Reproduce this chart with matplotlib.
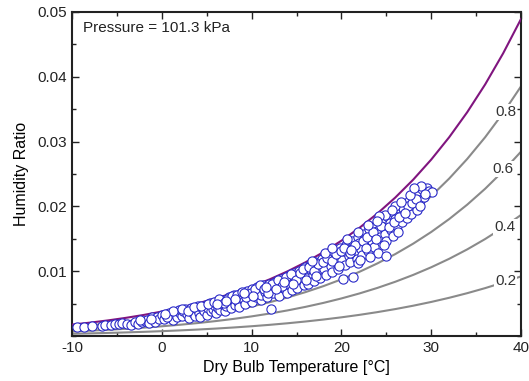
import numpy as np
import matplotlib
matplotlib.use("Agg")
import matplotlib.pyplot as plt
from matplotlib.ticker import MultipleLocator

plt.rcParams['font.family'] = ['Liberation Sans', 'DejaVu Sans']
plt.rcParams['axes.unicode_minus'] = False

# Saturation vapour pressure table (kPa) vs dry bulb temperature (degC)
table_T = [-10, -8, -6, -4, -2, 0, 2, 4, 6, 8, 10, 12, 14, 16, 18, 20,
           22, 24, 26, 28, 30, 32, 34, 36, 38, 40]
table_pws = [0.2865, 0.3352, 0.3908, 0.4547, 0.5275, 0.6112, 0.7060, 0.8135,
             0.9353, 1.0729, 1.2282, 1.4028, 1.5990, 1.8188, 2.0647, 2.3392,
             2.6452, 2.9856, 3.3637, 3.7828, 4.2467, 4.7592, 5.3247, 5.9479,
             6.6336, 7.3844]
pressure_kpa = 101.3
rh_levels = [1.0, 0.8, 0.6, 0.4, 0.2]
rh_labels = ["0.8", "0.6", "0.4", "0.2"]
rh_label_T = [38.3, 38.0, 38.2, 38.3]
rh_label_W = [0.0346, 0.0257, 0.0168, 0.0085]

# Measured points (dry bulb temperature degC, humidity ratio)
obs_T = [-9.4, -8.7, -6.6, -6.3, -5.6, -5.2, -4.8, -4.4, -3.9, -3.4, -3.0, -2.6,
         -2.2, -1.9, -1.6, -1.4, -1.1, -0.8, -0.5, -0.3, 0.0,
         0.3, 0.5, 0.8, 1.0, 1.2, 1.5, 1.7, 1.9, 2.0,
         2.2, 2.4, 2.6, 2.8, 3.0, 3.1, 3.3, 3.5, 3.7, 3.9, 4.0,
         4.2, 4.3, 4.5, 4.7, 4.9, 5.0, 5.2, 5.4, 5.5, 5.7, 5.9, 6.0,
         6.2, 6.3, 6.5, 6.7, 6.8, 7.0, 7.2, 7.4, 7.5, 7.7, 7.9, 8.0, 8.1,
         8.3, 8.5, 8.6, 8.8, 9.0, 9.1, 9.3, 9.5, 9.6, 9.8, 10.0, 10.1,
         10.3, 10.5, 10.6, 10.8, 11.0, 11.1, 11.3, 11.5, 11.7, 11.9, 12.0, 12.2,
         12.4, 12.6, 12.8, 13.0, 13.1, 13.3, 13.5, 13.7, 13.9, 14.0, 14.2,
         14.3, 14.5, 14.7, 14.8, 15.0, 15.1, 15.3, 15.5, 15.6, 15.8, 15.9, 16.0,
         16.2, 16.3, 16.5, 16.6, 16.8, 17.0, 17.1, 17.3, 17.5, 17.6, 17.8, 18.0, 18.1,
         18.3, 18.5, 18.6, 18.8, 19.0, 19.1, 19.3, 19.5, 19.6, 19.8, 20.0, 20.1, 20.2,
         20.4, 20.5, 20.7, 20.8, 21.0, 21.2, 21.3, 21.4, 21.6, 21.7, 21.9, 22.0,
         22.2, 22.3, 22.5, 22.6, 22.8, 23.0, 23.1, 23.3, 23.4, 23.6, 23.8, 24.0, 24.1,
         24.3, 24.5, 24.6, 24.8, 25.0, 25.0, 25.2, 25.4, 25.5, 25.7, 25.9, 26.0,
         26.2, 26.3, 26.5, 26.7, 26.8, 27.0, 27.2, 27.3, 27.5, 27.7, 27.8, 28.0,
         28.2, 28.4, 28.6, 28.8, 29.0, 29.2, 29.5, 29.8, 30.1,
         0.6, 1.3, 2.3, 2.9, 3.6, 4.4, 5.1, 5.8, 6.4, 6.9, 7.3, 7.8, 8.4, 8.9,
         9.4, 9.9, 10.4, 10.9, 11.4, 11.8, 12.3, 12.9, 13.4, 13.8, 14.4, 14.9,
         15.4, 15.7, 16.4, 16.9, 17.4, 17.9, 18.4, 18.9, 19.4, 19.9, 20.3, 20.9,
         21.5, 21.8, 22.4, 22.9, 23.5, 23.9, 24.4, 24.9, 25.3, 25.8, 26.4, 26.9,
         27.4, 27.9, 28.3, 28.7, 22.1, 23.2, 24.7, 19.7, 17.2, 16.1, 14.6,
         16.7, 18.2, 19.0, 20.6, 21.8, 23.0, 24.2, 26.0, 27.6, 28.9,
         -7.8, -2.4, -1.2, 0.4, 26.6, 27.1, 28.1, 29.3, 25.6, 24.0, 22.7, 21.1,
         13.6, 12.7, 11.6, 10.2, 9.2, 8.2, 7.1, 6.1]
obs_W = [0.0014, 0.0014, 0.0015, 0.0017, 0.0017, 0.0019, 0.0018, 0.0020, 0.0019, 0.0017, 0.0021, 0.0019,
         0.0021, 0.0023, 0.0025, 0.0020, 0.0029, 0.0022, 0.0030, 0.0026, 0.0032,
         0.0027, 0.0033, 0.0036, 0.0030, 0.0025, 0.0034, 0.0029, 0.0040, 0.0036,
         0.0031, 0.0038, 0.0042, 0.0034, 0.0028, 0.0040, 0.0044, 0.0036, 0.0031, 0.0041, 0.0046,
         0.0035, 0.0029, 0.0043, 0.0039, 0.0048, 0.0033, 0.0044, 0.0051, 0.0038, 0.0041, 0.0047, 0.0035,
         0.0053, 0.0044, 0.0040, 0.0049, 0.0056, 0.0038, 0.0046, 0.0052, 0.0060, 0.0043, 0.0055, 0.0063, 0.0048,
         0.0058, 0.0052, 0.0045, 0.0066, 0.0061, 0.0055, 0.0049, 0.0069, 0.0063, 0.0057, 0.0072, 0.0052,
         0.0066, 0.0060, 0.0075, 0.0070, 0.0056, 0.0064, 0.0078, 0.0068, 0.0060, 0.0081, 0.0073, 0.0042,
         0.0066, 0.0084, 0.0077, 0.0070, 0.0062, 0.0088, 0.0080, 0.0073, 0.0066, 0.0093, 0.0085,
         0.0078, 0.0071, 0.0097, 0.0089, 0.0082, 0.0074, 0.0101, 0.0093, 0.0086, 0.0078, 0.0106, 0.0097,
         0.0089, 0.0081, 0.0110, 0.0102, 0.0094, 0.0085, 0.0114, 0.0106, 0.0098, 0.0090, 0.0119, 0.0111, 0.0103,
         0.0094, 0.0125, 0.0116, 0.0108, 0.0099, 0.0130, 0.0121, 0.0112, 0.0104, 0.0136, 0.0127, 0.0118, 0.0088,
         0.0110, 0.0141, 0.0132, 0.0123, 0.0114, 0.0146, 0.0091, 0.0137, 0.0128, 0.0119, 0.0152, 0.0143,
         0.0134, 0.0125, 0.0158, 0.0149, 0.0140, 0.0131, 0.0165, 0.0155, 0.0146, 0.0137, 0.0171, 0.0162, 0.0128,
         0.0152, 0.0177, 0.0168, 0.0158, 0.0123, 0.0147, 0.0183, 0.0174, 0.0164, 0.0155, 0.0190, 0.0180,
         0.0170, 0.0161, 0.0196, 0.0186, 0.0176, 0.0203, 0.0193, 0.0182, 0.0209, 0.0198, 0.0188, 0.0215,
         0.0204, 0.0194, 0.0220, 0.0210, 0.0226, 0.0215, 0.0228, 0.0224, 0.0222,
         0.0030, 0.0038, 0.0041, 0.0039, 0.0045, 0.0047, 0.0050, 0.0053, 0.0057, 0.0051, 0.0057, 0.0062, 0.0064, 0.0068,
         0.0060, 0.0066, 0.0073, 0.0079, 0.0072, 0.0066, 0.0080, 0.0087, 0.0077, 0.0091, 0.0095, 0.0086,
         0.0097, 0.0103, 0.0107, 0.0101, 0.0111, 0.0114, 0.0120, 0.0115, 0.0126, 0.0131, 0.0136, 0.0128,
         0.0141, 0.0112, 0.0146, 0.0153, 0.0160, 0.0150, 0.0170, 0.0186, 0.0168, 0.0176, 0.0184, 0.0197,
         0.0200, 0.0205, 0.0212, 0.0201, 0.0118, 0.0122, 0.0140, 0.0108, 0.0093, 0.0086, 0.0081,
         0.0115, 0.0128, 0.0135, 0.0150, 0.0160, 0.0172, 0.0185, 0.0200, 0.0218, 0.0232,
         0.0016, 0.0024, 0.0027, 0.0034, 0.0207, 0.0190, 0.0228, 0.0219, 0.0195, 0.0178, 0.0136, 0.0133,
         0.0083, 0.0072, 0.0075, 0.0062, 0.0066, 0.0057, 0.0054, 0.0049]

T = np.array(table_T, dtype=float)
pws = np.array(table_pws)

fig = plt.figure(figsize=(5.29, 3.81), dpi=100)
ax = fig.add_axes([0.136, 0.118, 0.849, 0.851])

for rh in rh_levels:
    pw = rh * pws
    W = 0.622 * pw / (pressure_kpa - pw)
    if rh == 1.0:
        ax.plot(T, W, color='#80157f', lw=1.5, zorder=3)
    else:
        ax.plot(T, W, color='#8a8a8a', lw=1.5, zorder=2)

ax.scatter(obs_T, obs_W, s=44, facecolors='white', edgecolors='#2b2bc8',
           linewidths=0.8, zorder=4)

for lab, lt, lw_ in zip(rh_labels, rh_label_T, rh_label_W):
    ax.text(lt, lw_, lab, fontsize=11, color='#333333', ha='center', va='center',
            zorder=5, bbox=dict(facecolor='white', edgecolor='none', pad=0.8))

ax.text(0.025, 0.95, "Pressure = 101.3 kPa", transform=ax.transAxes,
        fontsize=11, ha='left', va='center', color='#222222')

ax.set_xlim(-10, 40)
ax.set_ylim(0.0, 0.05)
ax.set_xticks([-10, 0, 10, 20, 30, 40])
ax.set_yticks([0.01, 0.02, 0.03, 0.04, 0.05])
ax.set_yticklabels(["0.01", "0.02", "0.03", "0.04", "0.05"])
ax.xaxis.set_minor_locator(MultipleLocator(5))
ax.yaxis.set_minor_locator(MultipleLocator(0.005))
ax.tick_params(which='both', direction='in', top=True, right=True,
               labelsize=11, colors='#222222', width=1.0)
ax.tick_params(which='major', length=5)
ax.tick_params(which='minor', length=3)
for sp in ax.spines.values():
    sp.set_linewidth(1.5)
    sp.set_color('#222222')

ax.set_xlabel("Dry Bulb Temperature [°C]", fontsize=11.5, labelpad=4)
ax.set_ylabel("Humidity Ratio", fontsize=11.5, labelpad=6)

fig.savefig("out.png", dpi=100)
